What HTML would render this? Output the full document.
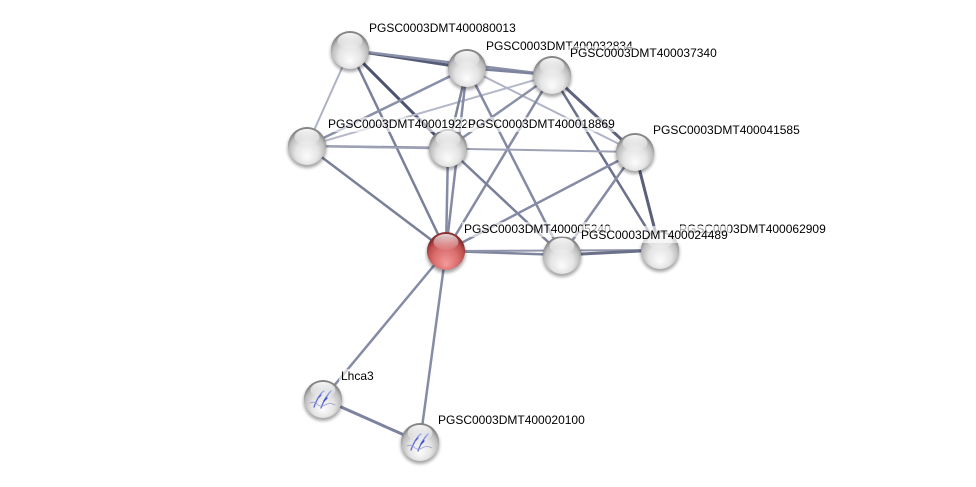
<!DOCTYPE html>
<html>
<head>
<meta charset="utf-8">
<style>
html,body{margin:0;padding:0;background:#fff;}
svg{display:block;}
text{font-family:"Liberation Sans",Arial,sans-serif;font-size:12px;fill:#000;}
</style>
</head>
<body>
<svg width="976" height="487" viewBox="0 0 976 487" xmlns="http://www.w3.org/2000/svg">
<defs>
  <radialGradient id="gw" cx="0.5" cy="0.6" r="0.55" fx="0.5" fy="0.8">
    <stop offset="0" stop-color="#fcfcfc"/>
    <stop offset="0.55" stop-color="#e4e4e4"/>
    <stop offset="0.85" stop-color="#bdbdbd"/>
    <stop offset="1" stop-color="#858585"/>
  </radialGradient>
  <radialGradient id="gr" cx="0.5" cy="0.65" r="0.55" fx="0.5" fy="0.85">
    <stop offset="0" stop-color="#f49a9a"/>
    <stop offset="0.55" stop-color="#dc7070"/>
    <stop offset="0.85" stop-color="#c05050"/>
    <stop offset="1" stop-color="#8a3030"/>
  </radialGradient>
  <linearGradient id="hl" x1="0" y1="0" x2="0" y2="1">
    <stop offset="0" stop-color="#ffffff" stop-opacity="0.95"/>
    <stop offset="1" stop-color="#ffffff" stop-opacity="0.05"/>
  </linearGradient>
  <filter id="sh" x="-50%" y="-50%" width="200%" height="200%">
    <feGaussianBlur stdDeviation="1.6"/>
  </filter>
</defs>

<!-- edges -->
<g fill="none" stroke-linecap="round">
  <!-- top cluster -->
  <line x1="350" y1="50" x2="467" y2="68" stroke="#565c76" stroke-width="3"/>
  <line x1="350" y1="50" x2="552" y2="75" stroke="#8a90a8" stroke-width="2.5"/>
  <line x1="467" y1="68" x2="552" y2="75" stroke="#7d839c" stroke-width="2.5"/>
  <line x1="350" y1="50" x2="307" y2="146" stroke="#aeb2c4" stroke-width="2"/>
  <line x1="350" y1="50" x2="448" y2="148" stroke="#4c5270" stroke-width="3"/>
  <line x1="350" y1="50" x2="446" y2="251" stroke="#7a809a" stroke-width="2.5"/>
  <line x1="467" y1="68" x2="307" y2="146" stroke="#8a90a8" stroke-width="2.5"/>
  <line x1="552" y1="75" x2="307" y2="146" stroke="#b4b8c8" stroke-width="2"/>
  <line x1="467" y1="68" x2="448" y2="148" stroke="#7d839c" stroke-width="2.5"/>
  <line x1="467" y1="68" x2="446" y2="251" stroke="#858ba4" stroke-width="2.5"/>
  <line x1="467" y1="68" x2="562" y2="255" stroke="#858ba4" stroke-width="2.5"/>
  <line x1="467" y1="68" x2="635" y2="152" stroke="#b0b4c6" stroke-width="2"/>
  <line x1="552" y1="75" x2="448" y2="148" stroke="#8a90a8" stroke-width="2.5"/>
  <line x1="552" y1="75" x2="446" y2="251" stroke="#858ba4" stroke-width="2.5"/>
  <line x1="552" y1="75" x2="635" y2="152" stroke="#5e6480" stroke-width="3"/>
  <line x1="552" y1="75" x2="660" y2="250" stroke="#6a708a" stroke-width="2.5"/>
  <line x1="307" y1="146" x2="448" y2="148" stroke="#8a90a8" stroke-width="2.5"/>
  <line x1="307" y1="146" x2="635" y2="152" stroke="#9ea2b6" stroke-width="2"/>
  <line x1="307" y1="146" x2="446" y2="251" stroke="#7a809a" stroke-width="2.5"/>
  <line x1="448" y1="148" x2="446" y2="251" stroke="#858ba4" stroke-width="2.5"/>
  <line x1="448" y1="148" x2="562" y2="255" stroke="#7a809a" stroke-width="2.5"/>
  <line x1="635" y1="152" x2="446" y2="251" stroke="#858ba4" stroke-width="2.5"/>
  <line x1="635" y1="152" x2="562" y2="255" stroke="#858ba4" stroke-width="2.5"/>
  <line x1="635" y1="152" x2="660" y2="250" stroke="#5a607c" stroke-width="3"/>
  <!-- bottom row -->
  <line x1="446" y1="251" x2="562" y2="255" stroke="#80869e" stroke-width="2.5"/>
  <line x1="446" y1="251" x2="660" y2="250" stroke="#9094aa" stroke-width="2"/>
  <line x1="562" y1="255" x2="660" y2="250" stroke="#6a708a" stroke-width="3"/>
  <!-- lower -->
  <line x1="446" y1="251" x2="323" y2="399" stroke="#868ca6" stroke-width="2.5"/>
  <line x1="446" y1="251" x2="420" y2="442" stroke="#868ca6" stroke-width="2.5"/>
  <line x1="323" y1="399" x2="420" y2="442" stroke="#7d839e" stroke-width="3"/>
</g>

<!-- nodes -->
<g id="nodes">
  <!-- A -->
  <g transform="translate(350,50)">
    <circle cx="0" cy="2.5" r="19.5" fill="#000" opacity="0.35" filter="url(#sh)"/>
    <circle r="19" fill="url(#gw)"/>
    <ellipse cx="0" cy="-9" rx="12.5" ry="8" fill="url(#hl)"/>
  </g>
  <!-- B -->
  <g transform="translate(467,68)">
    <circle cx="0" cy="2.5" r="19.5" fill="#000" opacity="0.35" filter="url(#sh)"/>
    <circle r="19" fill="url(#gw)"/>
    <ellipse cx="0" cy="-9" rx="12.5" ry="8" fill="url(#hl)"/>
  </g>
  <!-- C -->
  <g transform="translate(552,75)">
    <circle cx="0" cy="2.5" r="19.5" fill="#000" opacity="0.35" filter="url(#sh)"/>
    <circle r="19" fill="url(#gw)"/>
    <ellipse cx="0" cy="-9" rx="12.5" ry="8" fill="url(#hl)"/>
  </g>
  <!-- D -->
  <g transform="translate(307,146)">
    <circle cx="0" cy="2.5" r="19.5" fill="#000" opacity="0.35" filter="url(#sh)"/>
    <circle r="19" fill="url(#gw)"/>
    <ellipse cx="0" cy="-9" rx="12.5" ry="8" fill="url(#hl)"/>
  </g>
  <!-- E -->
  <g transform="translate(448,148)">
    <circle cx="0" cy="2.5" r="19.5" fill="#000" opacity="0.35" filter="url(#sh)"/>
    <circle r="19" fill="url(#gw)"/>
    <ellipse cx="0" cy="-9" rx="12.5" ry="8" fill="url(#hl)"/>
  </g>
  <!-- F -->
  <g transform="translate(635,152)">
    <circle cx="0" cy="2.5" r="19.5" fill="#000" opacity="0.35" filter="url(#sh)"/>
    <circle r="19" fill="url(#gw)"/>
    <ellipse cx="0" cy="-9" rx="12.5" ry="8" fill="url(#hl)"/>
  </g>
  <!-- H -->
  <g transform="translate(562,255)">
    <circle cx="0" cy="2.5" r="19.5" fill="#000" opacity="0.35" filter="url(#sh)"/>
    <circle r="19" fill="url(#gw)"/>
    <ellipse cx="0" cy="-9" rx="12.5" ry="8" fill="url(#hl)"/>
  </g>
  <!-- I -->
  <g transform="translate(660,250)">
    <circle cx="0" cy="2.5" r="19.5" fill="#000" opacity="0.35" filter="url(#sh)"/>
    <circle r="19" fill="url(#gw)"/>
    <ellipse cx="0" cy="-9" rx="12.5" ry="8" fill="url(#hl)"/>
  </g>
  <!-- G red -->
  <g transform="translate(446,251)">
    <circle cx="0" cy="2.5" r="19.5" fill="#000" opacity="0.35" filter="url(#sh)"/>
    <circle r="19" fill="url(#gr)"/>
    <ellipse cx="0" cy="-9" rx="12.5" ry="8" fill="url(#hl)" opacity="0.85"/>
  </g>
  <!-- J -->
  <g transform="translate(323,399)">
    <circle cx="0" cy="2.5" r="19.5" fill="#000" opacity="0.35" filter="url(#sh)"/>
    <circle r="19" fill="url(#gw)"/>
    <g fill="none" stroke-width="1.3" stroke-linecap="round">
      <path d="M-9,8 Q-6,0 -3,-4 Q-1,-7 1,-8" stroke="#5a68e0"/>
      <path d="M-2,9 Q1,1 4,-3 Q6,-6 8,-8" stroke="#5a68e0"/>
      <path d="M-13,4 Q-9,2 -6,5 Q-2,9 2,6 Q7,3 12,6" stroke="#9aa0c8" stroke-width="0.8"/>
      <path d="M-4,-2 l2,-2 M1,2 l3,-3" stroke="#3a48c8"/>
    </g>
    <ellipse cx="0" cy="-9" rx="12.5" ry="8" fill="url(#hl)"/>
  </g>
  <!-- K -->
  <g transform="translate(420,442)">
    <circle cx="0" cy="2.5" r="19.5" fill="#000" opacity="0.35" filter="url(#sh)"/>
    <circle r="19" fill="url(#gw)"/>
    <g fill="none" stroke-width="1.3" stroke-linecap="round">
      <path d="M-9,8 Q-6,0 -3,-4 Q-1,-7 1,-8" stroke="#5a68e0"/>
      <path d="M-2,9 Q1,1 4,-3 Q6,-6 8,-8" stroke="#5a68e0"/>
      <path d="M-13,4 Q-9,2 -6,5 Q-2,9 2,6 Q7,3 12,6" stroke="#9aa0c8" stroke-width="0.8"/>
      <path d="M-4,-2 l2,-2 M1,2 l3,-3" stroke="#3a48c8"/>
    </g>
    <ellipse cx="0" cy="-9" rx="12.5" ry="8" fill="url(#hl)"/>
  </g>
</g>

<!-- labels -->
<g>
  <rect x="367" y="21" width="151" height="15" fill="#fff" opacity="0.6"/>
  <text x="369" y="32">PGSC0003DMT400080013</text>

  <rect x="484" y="39" width="151" height="15" fill="#fff" opacity="0.6"/>
  <text x="486" y="50">PGSC0003DMT400032834</text>

  <rect x="568" y="46" width="151" height="15" fill="#fff" opacity="0.6"/>
  <text x="570" y="57">PGSC0003DMT400037340</text>

  <rect x="326" y="117" width="151" height="15" fill="#fff" opacity="0.6"/>
  <text x="328" y="128">PGSC0003DMT400019220</text>

  <rect x="466" y="117" width="151" height="15" fill="#fff" opacity="0.6"/>
  <text x="468" y="128">PGSC0003DMT400018869</text>

  <rect x="651" y="123" width="151" height="15" fill="#fff" opacity="0.6"/>
  <text x="653" y="134">PGSC0003DMT400041585</text>

  <rect x="462" y="222" width="151" height="15" fill="#fff" opacity="0.6"/>
  <text x="464" y="233">PGSC0003DMT400005240</text>

  <rect x="677" y="222" width="151" height="15" fill="#fff" opacity="0.6"/>
  <text x="679" y="233">PGSC0003DMT400062909</text>

  <rect x="579" y="226" width="151" height="17" fill="#fff" opacity="0.65"/>
  <text x="581" y="239">PGSC0003DMT400024489</text>

  <rect x="339" y="369" width="37" height="15" fill="#fff" opacity="0.6"/>
  <text x="341" y="380">Lhca3</text>

  <rect x="436" y="413" width="151" height="15" fill="#fff" opacity="0.6"/>
  <text x="438" y="424">PGSC0003DMT400020100</text>
</g>
</svg>
</body>
</html>
